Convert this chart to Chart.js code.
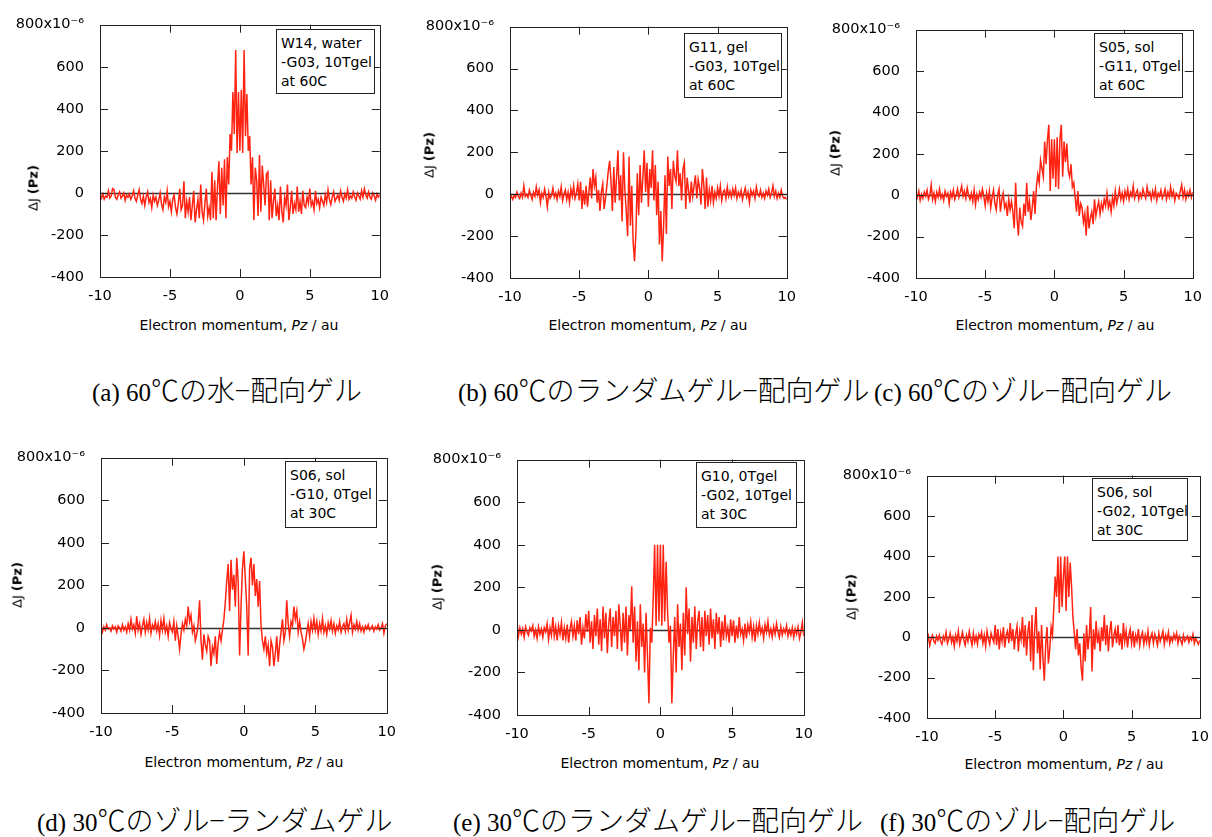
<!DOCTYPE html>
<html>
<head>
<meta charset="utf-8">
<script src="https://cdn.jsdelivr.net/npm/chart.js@4"></script>
<style>
  html, body { margin: 0; padding: 0; background: #fff; }
  #page { position: relative; width: 1212px; height: 837px; overflow: hidden; font-family: "DejaVu Sans", sans-serif; }
  .pane { position: absolute; }
  .box { position: absolute; box-sizing: border-box; border: 1px solid #222; background: #fff;
         font-size: 14px; line-height: 19px; padding: 4px 0 0 4px; color: #000; white-space: nowrap; }
  .ylab { position: absolute; font-size: 13px; white-space: nowrap; color: #000;
          transform: translate(-50%, -50%) rotate(-90deg); }
  .xlab { position: absolute; font-size: 14px; white-space: nowrap; color: #000; transform: translate(-50%, -50%); }
  .cap { position: absolute; font-family: "Liberation Serif", serif; font-size: 25px;
         white-space: nowrap; color: #000; transform: translateY(-50%); }
  .cap span { font-family: "Noto Sans CJK JP", sans-serif; font-size: 28px; font-weight: 300; }
</style>
</head>
<body>
<div id="page"></div>
<script>
// electron momentum grid (au)
const pz = [
  -10,-9.9,-9.8,-9.7,-9.6,-9.5,-9.4,-9.3,-9.2,-9.1,
  -9,-8.9,-8.8,-8.7,-8.6,-8.5,-8.4,-8.3,-8.2,-8.1,
  -8,-7.9,-7.8,-7.7,-7.6,-7.5,-7.4,-7.3,-7.2,-7.1,
  -7,-6.9,-6.8,-6.7,-6.6,-6.5,-6.4,-6.3,-6.2,-6.1,
  -6,-5.9,-5.8,-5.7,-5.6,-5.5,-5.4,-5.3,-5.2,-5.1,
  -5,-4.9,-4.8,-4.7,-4.6,-4.5,-4.4,-4.3,-4.2,-4.1,
  -4,-3.9,-3.8,-3.7,-3.6,-3.5,-3.4,-3.3,-3.2,-3.1,
  -3,-2.9,-2.8,-2.7,-2.6,-2.5,-2.4,-2.3,-2.2,-2.1,
  -2,-1.9,-1.8,-1.7,-1.6,-1.5,-1.4,-1.3,-1.2,-1.1,
  -1,-0.9,-0.8,-0.7,-0.6,-0.5,-0.4,-0.3,-0.2,-0.1,
  0,0.1,0.2,0.3,0.4,0.5,0.6,0.7,0.8,0.9,
  1,1.1,1.2,1.3,1.4,1.5,1.6,1.7,1.8,1.9,
  2,2.1,2.2,2.3,2.4,2.5,2.6,2.7,2.8,2.9,
  3,3.1,3.2,3.3,3.4,3.5,3.6,3.7,3.8,3.9,
  4,4.1,4.2,4.3,4.4,4.5,4.6,4.7,4.8,4.9,
  5,5.1,5.2,5.3,5.4,5.5,5.6,5.7,5.8,5.9,
  6,6.1,6.2,6.3,6.4,6.5,6.6,6.7,6.8,6.9,
  7,7.1,7.2,7.3,7.4,7.5,7.6,7.7,7.8,7.9,
  8,8.1,8.2,8.3,8.4,8.5,8.6,8.7,8.8,8.9,
  9,9.1,9.2,9.3,9.4,9.5,9.6,9.7,9.8,9.9,
  10
];

// dJ(pz) in units of 1e-6
const dJ_a = [
  -10,-25,-5,-30,-15,-20,10,-25,-15,20,
  15,-20,-30,-10,5,-25,-15,0,-35,-10,
  -20,-5,-30,-15,10,-25,-40,-10,15,-30,
  -50,-15,-60,-20,5,-45,-25,-70,-10,-40,
  -20,-60,-35,0,-55,-80,-20,-45,10,-65,
  -40,-90,-30,-10,-70,-100,-50,20,-80,-60,
  55,-120,-40,-90,-20,-130,-60,10,-140,-80,
  -30,-120,40,-90,-130,-50,20,-110,-70,-130,
  100,-120,60,-130,30,150,-100,120,-60,160,
  -120,170,40,280,200,480,280,680,190,480,
  200,490,190,680,270,470,200,270,40,170,
  -130,120,60,-110,180,-90,130,40,-60,90,
  100,-130,60,-120,-40,20,-110,-60,-130,30,
  -90,-140,-20,-60,40,-130,-70,10,-100,-50,
  -80,30,-90,-40,-100,10,-60,-70,-20,-50,
  20,-60,-40,-80,10,-50,-30,-70,-20,-40,
  -60,-10,-45,15,-30,-55,-20,5,-40,-25,
  -10,-35,10,-20,-40,-5,-25,15,-30,-15,
  -25,5,-20,-35,0,-15,-30,10,-20,20,
  -10,-25,5,-20,-30,0,-15,-35,-5,-20,
  -10
];
const dJ_b = [
  -20,-10,-25,-5,-15,10,-10,-20,5,-15,
  40,-10,0,-15,20,-5,-25,10,-10,35,
  -5,20,-40,5,-15,25,-10,-60,10,-20,
  -5,30,-15,5,-25,15,-10,35,-30,0,
  20,-25,10,-40,25,-10,40,-20,5,50,
  -30,60,-70,20,-50,40,-60,10,80,-20,
  120,40,80,-40,20,-80,10,50,-70,-20,
  40,110,160,60,-80,130,-40,80,210,-30,
  90,-130,200,20,-80,-200,180,-150,40,-230,
  -320,-180,100,-100,140,-40,80,210,10,150,
  -60,120,30,210,-30,140,-100,60,-240,-80,
  -320,-150,90,-190,180,40,120,-70,160,90,
  60,210,40,100,-30,120,150,-70,80,20,
  -40,60,-10,40,90,-20,70,30,-50,120,
  50,-70,80,-60,20,-30,40,-40,10,-20,
  30,-10,40,-30,10,20,-20,35,-10,15,
  -15,25,-5,30,-20,10,-10,20,-25,5,
  30,-15,10,-40,20,-5,15,-20,35,0,
  -10,20,-15,5,-20,15,-5,25,-15,5,
  40,-10,15,-20,5,-15,20,-10,-20,-15,
  -25
];
const dJ_c = [
  10,-10,20,-25,5,-15,15,-5,25,-20,
  0,50,-20,10,-30,15,-10,30,-15,5,
  -25,20,-5,10,-40,15,-10,25,-20,0,
  30,-10,15,45,-5,20,-15,35,0,-20,
  10,-30,25,-45,5,-20,15,-10,30,-5,
  -50,10,-30,20,-60,-10,25,-40,-70,0,
  30,-80,-20,10,-60,-40,-100,-20,-70,-30,
  -80,-160,60,-110,-195,-60,-130,-150,-40,-100,
  60,-80,-30,-120,-60,20,-90,40,100,60,
  170,130,90,260,150,270,340,20,270,80,
  270,40,280,30,270,340,90,260,160,250,
  120,90,150,40,60,-10,-80,20,-100,-40,
  -60,-130,-90,-195,-50,-160,-110,-80,-140,-20,
  -100,-60,-30,-90,-40,-70,-20,-50,10,-60,
  -30,-80,-10,-50,20,-40,-10,30,-20,10,
  -30,20,-10,30,-20,15,-5,45,-15,10,
  25,-20,10,-10,30,5,-15,40,0,15,
  -20,20,-10,30,-25,10,-5,25,-15,5,
  30,-20,15,-10,40,-5,20,-25,10,0,
  -15,20,50,-10,25,-20,15,-5,25,-10,
  15
];
const dJ_d = [
  10,-20,5,-10,15,-5,0,-15,10,-5,
  5,-20,10,0,-15,15,-10,5,-20,20,
  -10,40,-5,15,-25,55,-10,20,-30,10,
  40,-20,25,-10,45,-25,15,-5,30,-15,
  20,-35,35,-10,45,-20,10,-40,25,-5,
  -20,30,-60,10,-40,-100,-30,20,-10,40,
  10,100,30,60,-20,10,-60,-30,20,130,
  -60,-150,-30,-80,-110,-40,-60,-180,-90,-120,
  -40,-170,-70,-20,-60,-10,40,120,220,300,
  80,320,180,250,100,330,220,-130,100,280,
  360,230,100,-130,280,330,200,300,150,230,
  100,220,10,-60,-100,-40,-120,-80,-180,-60,
  -90,-180,-120,-40,-160,-80,-20,40,-60,-20,
  130,20,-40,30,10,100,40,80,-20,30,
  -20,-50,-100,-70,-20,20,-40,30,-10,45,
  -10,30,-30,20,-15,45,-20,10,-30,25,
  -5,35,-15,20,-25,10,-10,30,-20,5,
  20,-15,40,-10,25,60,-20,15,-5,30,
  -10,20,-15,5,-20,10,-5,15,-10,0,
  10,-15,5,-5,15,-10,0,20,-25,10,
  20
];
const dJ_e = [
  35,-30,10,-20,5,-35,15,-10,-25,10,
  -5,20,-30,0,-40,15,-20,5,-35,10,
  -10,30,-45,10,-25,60,-30,15,-50,20,
  -20,35,-50,10,-40,25,-60,5,40,-30,
  20,-50,45,-20,60,-70,10,-40,75,-10,
  90,-60,40,-90,70,-30,100,-70,50,-100,
  110,-40,80,-110,30,100,-80,60,-30,90,
  -90,120,20,-100,80,-60,110,-120,70,0,
  205,-60,110,-150,40,-190,120,-80,30,-200,
  80,-120,-345,10,-60,150,400,20,400,40,
  400,20,400,40,320,90,-60,20,-345,-120,
  60,-200,120,-80,30,-190,80,-120,200,-20,
  100,-150,60,-60,110,-90,40,90,-80,60,
  -100,90,-30,70,-70,100,-40,50,-90,80,
  -20,60,-80,40,-50,70,-30,10,-60,50,
  -30,45,-60,20,-40,60,-20,5,-50,30,
  -40,25,-10,40,-35,15,-55,20,-20,35,
  -15,10,-40,25,-10,40,-25,5,-35,15,
  -20,30,-10,-35,15,-25,5,-15,20,-30,
  0,-25,10,-35,5,-20,15,-40,-10,35,
  -30
];
const dJ_f = [
  -25,5,-40,-10,10,-20,-30,5,-15,10,
  -20,-35,5,-15,25,-30,-10,20,-25,0,
  -45,10,-20,30,-35,-5,25,-15,-40,10,
  -20,30,-10,-40,20,-25,5,-35,15,-5,
  25,-30,10,-45,30,-10,-35,20,-5,-25,
  60,-40,40,-60,20,-20,50,-50,10,30,
  -30,70,-20,40,-60,15,55,-70,30,-10,
  100,-50,60,-90,30,80,-120,110,-163,40,
  150,-80,30,-160,60,-100,-215,-40,50,-130,
  -60,50,10,150,300,200,400,120,400,150,
  300,400,130,400,200,370,250,100,20,-60,
  40,-90,-30,-150,-215,20,-120,60,-60,10,
  150,-170,40,-60,80,-30,20,-70,50,-20,
  110,-40,60,-70,30,80,-50,10,40,-30,
  60,-40,20,-60,70,-20,30,-50,10,40,
  -30,30,-50,10,-20,40,-40,5,25,-35,
  10,-25,30,-40,0,20,-30,15,-10,-40,
  20,-20,5,30,-35,10,-15,25,-30,0,
  -20,15,-10,20,-30,5,-15,-35,10,-20,
  -10,5,-25,0,-15,15,-30,-5,-20,-35,
  -15
];

const legend_a = ['W14, water', '-G03, 10Tgel', 'at 60C'];
const legend_b = ['G11, gel', '-G03, 10Tgel', 'at 60C'];
const legend_c = ['S05, sol', '-G11, 0Tgel', 'at 60C'];
const legend_d = ['S06, sol', '-G10, 0Tgel', 'at 30C'];
const legend_e = ['G10, 0Tgel', '-G02, 10Tgel', 'at 30C'];
const legend_f = ['S06, sol', '-G02, 10Tgel', 'at 30C'];

// caption: latin prefix + Japanese part
const captions = [
  ['(a) 60', '℃の水−配向ゲル'],
  ['(b) 60', '℃のランダムゲル−配向ゲル'],
  ['(c) 60', '℃のゾル−配向ゲル'],
  ['(d) 30', '℃のゾル−ランダムゲル'],
  ['(e) 30', '℃のランダムゲル−配向ゲル'],
  ['(f) 30', '℃のゾル−配向ゲル']
];

const yTicks = { min: -400, max: 800, step: 200 };
const xTicks = { min: -10, max: 10, step: 5 };

// page layout: plot rectangle [left, top, right, bottom], axis title centres, legend box, caption spot
const panels = [
  { vals: dJ_a, legend: legend_a, plot: [100, 22, 380, 277], ylab: [33, 188], xlab: [239, 325], box: [276, 29, 99, 65], cap: [92, 389] },
  { vals: dJ_b, legend: legend_b, plot: [510, 24, 787, 278], ylab: [429, 155], xlab: [648, 325], box: [684, 33, 98, 65], cap: [458, 389] },
  { vals: dJ_c, legend: legend_c, plot: [916, 27, 1193, 278], ylab: [835, 153], xlab: [1055, 325], box: [1094, 33, 89, 65], cap: [874, 389] },
  { vals: dJ_d, legend: legend_d, plot: [101, 455, 387, 713], ylab: [17, 585], xlab: [244, 762], box: [285, 461, 92, 67], cap: [37, 819] },
  { vals: dJ_e, legend: legend_e, plot: [517, 457, 804, 715], ylab: [437, 587], xlab: [660, 763], box: [696, 462, 101, 66], cap: [453, 819] },
  { vals: dJ_f, legend: legend_f, plot: [927, 473, 1200, 718], ylab: [851, 597], xlab: [1064, 764], box: [1092, 478, 96, 63], cap: [880, 819] }
];

const Y_W = 96, X_H = 34, PAD_T = 14, PAD_R = 12;
const tickFont = { family: 'DejaVu Sans', size: 14.5 };

// Igor-style frame: zero line, box and inward ticks on all sides
const igorFrame = {
  id: 'igorFrame',
  beforeDatasetsDraw(chart) {
    const { ctx, chartArea: a, scales: { y } } = chart;
    const y0 = Math.round(y.getPixelForValue(0)) + 0.5;
    ctx.save();
    ctx.strokeStyle = '#333';
    ctx.lineWidth = 1.3;
    ctx.beginPath();
    ctx.moveTo(a.left, y0);
    ctx.lineTo(a.right, y0);
    ctx.stroke();
    ctx.restore();
  },
  afterDraw(chart) {
    const { ctx, chartArea: a, scales: { x, y } } = chart;
    const L = 8;
    ctx.save();
    ctx.strokeStyle = '#222';
    ctx.lineWidth = 1;
    ctx.strokeRect(Math.round(a.left) + 0.5, Math.round(a.top) + 0.5,
                   Math.round(a.right - a.left), Math.round(a.bottom - a.top));
    ctx.beginPath();
    y.ticks.forEach(t => {
      if (t.value <= yTicks.min || t.value >= yTicks.max) return;
      const p = Math.round(y.getPixelForValue(t.value)) + 0.5;
      ctx.moveTo(a.left, p); ctx.lineTo(a.left + L, p);
      ctx.moveTo(a.right, p); ctx.lineTo(a.right - L, p);
    });
    x.ticks.forEach(t => {
      if (t.value <= xTicks.min || t.value >= xTicks.max) return;
      const p = Math.round(x.getPixelForValue(t.value)) + 0.5;
      ctx.moveTo(p, a.bottom); ctx.lineTo(p, a.bottom - L);
      ctx.moveTo(p, a.top); ctx.lineTo(p, a.top + L);
    });
    ctx.stroke();
    ctx.restore();
  }
};

const page = document.getElementById('page');

function addDiv(cls, style, html) {
  const d = document.createElement('div');
  d.className = cls;
  Object.assign(d.style, style);
  d.innerHTML = html;
  page.appendChild(d);
  return d;
}

panels.forEach((p, i) => {
  const [l, t, r, b] = p.plot;
  const w = (r - l) + Y_W + PAD_R;
  const h = (b - t) + PAD_T + X_H;
  const holder = addDiv('pane', { left: (l - Y_W) + 'px', top: (t - PAD_T) + 'px', width: w + 'px', height: h + 'px' }, '');
  const canvas = document.createElement('canvas');
  canvas.width = w;
  canvas.height = h;
  holder.appendChild(canvas);

  new Chart(canvas, {
    type: 'line',
    data: {
      datasets: [{
        data: pz.map((x, k) => ({ x: x, y: p.vals[k] })),
        borderColor: '#ff2412',
        borderWidth: 1.5,
        pointRadius: 0,
        tension: 0,
        fill: false
      }]
    },
    options: {
      responsive: false,
      animation: false,
      devicePixelRatio: 1,
      layout: { padding: { top: PAD_T, right: PAD_R, left: 0, bottom: 0 } },
      plugins: { legend: { display: false }, tooltip: { enabled: false } },
      scales: {
        x: {
          type: 'linear',
          min: xTicks.min, max: xTicks.max,
          ticks: { stepSize: xTicks.step, font: tickFont, color: '#000', padding: 3, maxRotation: 0 },
          grid: { display: false },
          border: { display: false },
          afterFit(s) { s.height = X_H; }
        },
        y: {
          min: yTicks.min, max: yTicks.max,
          ticks: {
            stepSize: yTicks.step, font: tickFont, color: '#000', padding: 8,
            callback: v => v === yTicks.max ? v + 'x10\u207B\u2076' : String(v)
          },
          grid: { display: false },
          border: { display: false },
          afterFit(s) { s.width = Y_W; }
        }
      }
    },
    plugins: [igorFrame]
  });

  addDiv('box', { left: p.box[0] + 'px', top: p.box[1] + 'px', width: p.box[2] + 'px', height: p.box[3] + 'px' },
         p.legend.join('<br>'));
  addDiv('ylab', { left: p.ylab[0] + 'px', top: p.ylab[1] + 'px' }, '\u0394J <b>(Pz)</b>');
  addDiv('xlab', { left: p.xlab[0] + 'px', top: p.xlab[1] + 'px' }, 'Electron momentum, <i>Pz</i> / au');
  addDiv('cap', { left: p.cap[0] + 'px', top: p.cap[1] + 'px' }, captions[i][0] + '<span>' + captions[i][1] + '</span>');
});
</script>
</body>
</html>
